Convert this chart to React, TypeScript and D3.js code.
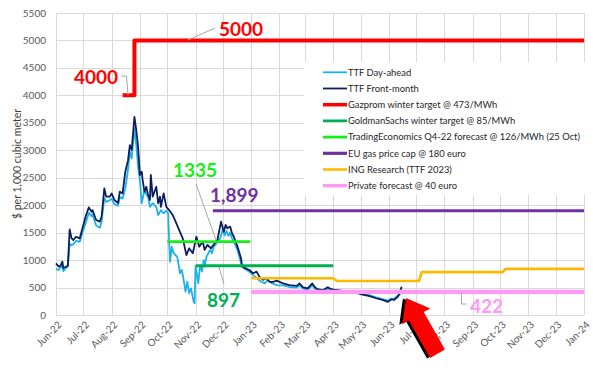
import React from "react";
import * as d3 from "d3";

const fmDates = ["2022-06-01","2022-06-04","2022-06-06","2022-06-08","2022-06-09","2022-06-12","2022-06-14","2022-06-16","2022-06-18","2022-06-20","2022-06-23","2022-06-27","2022-06-30","2022-07-04","2022-07-07","2022-07-10","2022-07-11","2022-07-15","2022-07-19","2022-07-21","2022-07-24","2022-07-26","2022-07-30","2022-08-01","2022-08-04","2022-08-08","2022-08-10","2022-08-13","2022-08-16","2022-08-19","2022-08-21","2022-08-23","2022-08-26","2022-08-28","2022-08-30","2022-09-01","2022-09-03","2022-09-04","2022-09-06","2022-09-08","2022-09-10","2022-09-12","2022-09-13","2022-09-15","2022-09-19","2022-09-21","2022-09-23","2022-09-24","2022-09-27","2022-09-30","2022-10-03","2022-10-07","2022-10-11","2022-10-14","2022-10-18","2022-10-22","2022-10-25","2022-10-29","2022-11-02","2022-11-05","2022-11-09","2022-11-11","2022-11-14","2022-11-18","2022-11-22","2022-11-25","2022-11-29","2022-12-02","2022-12-04","2022-12-06","2022-12-09","2022-12-11","2022-12-13","2022-12-17","2022-12-21","2022-12-22","2022-12-26","2022-12-30","2023-01-03","2023-01-07","2023-01-10","2023-01-14","2023-01-18","2023-01-21","2023-01-25","2023-01-29","2023-02-05","2023-02-12","2023-02-20","2023-02-23","2023-02-27","2023-03-04","2023-03-09","2023-03-12","2023-03-15","2023-03-21","2023-03-26","2023-03-30","2023-04-04","2023-04-11","2023-04-19","2023-04-25","2023-05-02","2023-05-11","2023-05-18","2023-05-25","2023-05-31","2023-06-04","2023-06-07","2023-06-11","2023-06-13","2023-06-15"];
const fmValues = [940,880,900,970,855,880,900,1560,1400,1365,1425,1395,1580,1820,1960,1880,1910,1730,1700,1790,2305,2155,2155,2215,2095,2040,2245,2215,2610,2820,3095,3005,3610,3370,3065,2550,2610,2460,2245,2335,2185,2095,2550,2155,2335,2035,2155,1970,2215,1970,1910,1820,1670,1550,1395,1090,1215,1125,1425,1245,1335,1185,1275,1215,1305,1365,1700,1515,1640,1580,1610,1490,1425,1245,1030,880,850,820,760,790,700,640,670,605,605,625,575,545,530,575,505,485,575,505,470,455,505,470,455,440,430,415,375,345,305,275,240,285,275,335,395,515];

const daDates = ["2022-06-01","2022-06-04","2022-06-06","2022-06-08","2022-06-09","2022-06-12","2022-06-14","2022-06-16","2022-06-18","2022-06-20","2022-06-23","2022-06-27","2022-06-30","2022-07-04","2022-07-07","2022-07-10","2022-07-11","2022-07-15","2022-07-19","2022-07-21","2022-07-24","2022-07-26","2022-07-30","2022-08-01","2022-08-04","2022-08-08","2022-08-10","2022-08-13","2022-08-16","2022-08-19","2022-08-21","2022-08-23","2022-08-26","2022-08-28","2022-08-30","2022-09-01","2022-09-03","2022-09-06","2022-09-08","2022-09-10","2022-09-12","2022-09-15","2022-09-19","2022-09-21","2022-09-24","2022-09-27","2022-09-30","2022-10-02","2022-10-03","2022-10-04","2022-10-06","2022-10-08","2022-10-12","2022-10-15","2022-10-17","2022-10-19","2022-10-21","2022-10-23","2022-10-25","2022-10-27","2022-10-30","2022-10-31","2022-11-01","2022-11-03","2022-11-04","2022-11-06","2022-11-08","2022-11-10","2022-11-11","2022-11-13","2022-11-17","2022-11-19","2022-11-21","2022-11-24","2022-11-28","2022-12-01","2022-12-03","2022-12-05","2022-12-07","2022-12-09","2022-12-11","2022-12-13","2022-12-17","2022-12-21","2022-12-24","2022-12-30","2023-01-05","2023-01-12","2023-01-16","2023-01-19","2023-01-24","2023-01-29","2023-02-05","2023-02-12","2023-02-20","2023-02-23","2023-02-27","2023-03-04","2023-03-09","2023-03-12","2023-03-15","2023-03-21","2023-03-26","2023-03-30","2023-04-04","2023-04-11","2023-04-19","2023-04-25","2023-05-02","2023-05-11","2023-05-18","2023-05-25","2023-05-31","2023-06-04","2023-06-07","2023-06-11","2023-06-14"];
const daValues = [840,820,870,900,800,860,880,1300,1270,1290,1350,1330,1500,1700,1860,1800,1830,1630,1590,1700,2130,2060,2090,2120,2020,1990,2150,2120,2305,2650,2975,2850,3400,3100,2700,2460,2035,2275,2200,2155,1970,2035,1970,1820,1910,1850,1900,1850,1365,970,1245,1125,1060,760,820,640,425,605,395,485,240,215,880,700,575,910,790,1000,880,1060,1185,1125,1245,1305,1395,1560,1450,1530,1440,1500,1395,1335,1185,940,850,790,700,605,575,640,575,545,540,510,500,540,480,460,540,480,450,440,480,450,450,440,430,410,385,360,320,290,260,300,300,360,395];

const gazDates = ["2022-08-13","2022-08-26","2022-08-26","2024-01-01"];
const gazValues = [4000,4000,5000,5000];
const gsDates = ["2022-11-01","2023-04-01"];
const gsValues = [897,897];
const teDates = ["2022-10-01","2022-12-31"];
const teValues = [1335,1335];
const euDates = ["2022-11-20","2024-01-01"];
const euValues = [1899,1899];
const ingDates = ["2023-01-01","2023-04-01","2023-04-05","2023-07-04","2023-07-07","2023-10-04","2023-10-07","2024-01-01"];
const ingValues = [670,670,620,620,780,780,840,840];
const pvDates = ["2023-01-01","2024-01-01"];
const pvValues = [422,422];

const yTicks = [0,500,1000,1500,2000,2500,3000,3500,4000,4500,5000,5500];

const legendLabels = [
  "TTF Day-ahead",
  "TTF Front-month",
  "Gazprom winter target @ 473/MWh",
  "GoldmanSachs winter target @ 85/MWh",
  "TradingEconomics Q4-22 forecast @ 126/MWh (25 Oct)",
  "EU gas price cap @ 180 euro",
  "ING Research (TTF 2023)",
  "Private forecast @ 40 euro",
];

const C = {
  da: "#1ab2ee",
  fm: "#0c1e5c",
  gaz: "#ff0000",
  gs: "#00b050",
  te: "#14f014",
  eu: "#7030a0",
  ing: "#ffb800",
  pv: "#ff99f5",
};

const FONT = "Lato, 'Open Sans', sans-serif";

export default function App() {
  const W = 593, H = 379;
  const L = 56, R = 584, T = 13, B = 315;
  const parse = d3.timeParse("%Y-%m-%d");
  const x = d3.scaleTime().domain([new Date(2022, 5, 1), new Date(2024, 0, 1)]).range([L, R]);
  const y = d3.scaleLinear().domain([0, 5500]).range([B, T]);
  const months = d3.timeMonth.range(new Date(2022, 5, 1), new Date(2024, 0, 2));
  const fmt = d3.timeFormat("%b-%y");

  const mk = (dates: string[], vals: number[]) => {
    const pts = dates.map((d, i) => [x(parse(d) as Date), y(vals[i])] as [number, number]);
    return d3.line()(pts) || "";
  };

  const series = [
    { key: "da", path: mk(daDates, daValues), color: C.da, w: 1.8 },
    { key: "fm", path: mk(fmDates, fmValues), color: C.fm, w: 1.8 },
    { key: "gaz", path: mk(gazDates, gazValues), color: C.gaz, w: 4 },
    { key: "gs", path: mk(gsDates, gsValues), color: C.gs, w: 2.8 },
    { key: "te", path: mk(teDates, teValues), color: C.te, w: 2.8 },
    { key: "eu", path: mk(euDates, euValues), color: C.eu, w: 3.2 },
    { key: "ing", path: mk(ingDates, ingValues), color: C.ing, w: 2.6 },
    { key: "pv", path: mk(pvDates, pvValues), color: C.pv, w: 4.2 },
  ];

  const tip: [number, number] = [406, 298];
  const ang = 60.5;
  const arrowPts = [
    [0, 0], [21, -16], [21, -8.5], [64, -8.5], [64, 8.5], [21, 8.5], [21, 16],
  ].map((p) => p.join(",")).join(" ");

  const legendY0 = 72.3, legendDy = 16.2;

  return (
    <svg width={W} height={H} style={{ position: "absolute", left: 0, top: 0, background: "#fff" }} fontFamily={FONT}>
      {yTicks.map((t) => (
        <line key={"gy" + t} x1={L} x2={R} y1={Math.round(y(t)) + 0.5} y2={Math.round(y(t)) + 0.5} stroke="#d9d9d9" strokeWidth={1} />
      ))}
      {months.map((m) => (
        <line key={"gx" + m.getTime()} x1={Math.round(x(m)) + 0.5} x2={Math.round(x(m)) + 0.5} y1={T} y2={B} stroke="#d9d9d9" strokeWidth={1} />
      ))}
      {yTicks.map((t) => (
        <text key={"yl" + t} x={46} y={y(t)} dy="0.35em" textAnchor="end" fontSize={10} fill="#595959">{t}</text>
      ))}
      {months.map((m) => (
        <text key={"xl" + m.getTime()} transform={`translate(${x(m) + 4},${B + 8}) rotate(-45)`} textAnchor="end" dy="0.35em" fontSize={10} fill="#595959">{fmt(m)}</text>
      ))}
      <text transform={`translate(17,164) rotate(-90)`} textAnchor="middle" dy="0.35em" fontSize={10.5} fill="#404040">$ per 1,000 cubic meter</text>

      <rect x={304} y={62} width={281} height={133} fill="#fff" />
      {legendLabels.map((lab, i) => {
        const s = series[i];
        const yy = legendY0 + i * legendDy;
        return (
          <g key={"lg" + i}>
            <line x1={323} x2={347} y1={yy} y2={yy} stroke={s.color} strokeWidth={Math.min(s.w, 3.5)} />
            <text x={348} y={yy} dy="0.35em" fontSize={9.4} fill="#262626">{lab}</text>
          </g>
        );
      })}

      {series.map((s) => (
        <path key={s.key} d={s.path} fill="none" stroke={s.color} strokeWidth={s.w} strokeLinejoin="round" />
      ))}

      <g stroke="#a6a6a6" strokeWidth={1} fill="none">
        <path d="M121.5,76 L126.5,76 L128,95" />
        <path d="M215,28 L188,40" />
        <path d="M196,184 L216,240" />
        <path d="M224,284 L219,267" />
        <path d="M461.5,293 L461.5,304 L466.5,304" />
      </g>

      <g fontWeight="bold" fontSize={19}>
        <text x={118} y={84} textAnchor="end" fill={C.gaz}>4000</text>
        <text x={219} y={36} fill={C.gaz}>5000</text>
        <text x={173} y={177} fill={C.te}>1335</text>
        <text x={210} y={202} fill={C.eu}>1,899</text>
        <text x={207} y={307} fill={C.gs}>897</text>
        <text x={470} y={313} fill={C.pv}>422</text>
      </g>

      <g transform={`translate(${tip[0]},${tip[1]}) rotate(${ang})`}>
        <polygon points={arrowPts} transform="translate(-1,3)" fill="#000" />
        <polygon points={arrowPts} fill="#ff0000" />
      </g>
    </svg>
  );
}
